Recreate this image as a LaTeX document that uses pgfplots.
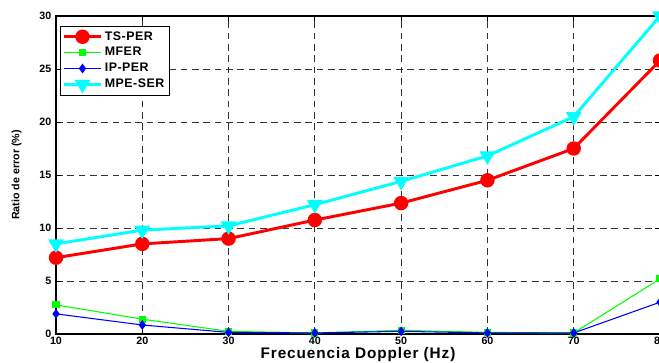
\documentclass[border=0pt]{standalone}
\usepackage{pgfplots}
\pgfplotsset{compat=1.18}
\usepackage{fontspec}
\setmainfont{Liberation Sans}
\definecolor{mcyan}{RGB}{0,255,255}
\definecolor{mgreen}{RGB}{0,255,0}
\definecolor{mblue}{RGB}{0,0,255}
\definecolor{mred}{RGB}{255,0,0}
\begin{document}
\begin{tikzpicture}
\begin{axis}[
  name=ax,
  scale only axis,
  width=453pt, height=238.5pt,
  xmin=10, xmax=80, ymin=0, ymax=30,
  xtick={10,20,...,80}, ytick={0,5,...,30},
  tick align=inside,
  major tick length=4pt,
  tick style={black, line width=0.6pt},
  axis line style={black, line width=1.2pt},
  grid=major,
  grid style={black!80, dash pattern=on 5pt off 3.5pt, line width=0.6pt},
  /pgf/number format/assume math mode=true,
  ticklabel style={font=\fontsize{8}{8}\selectfont\bfseries},
  xticklabel style={yshift=1pt},
  xlabel={Frecuencia Doppler (Hz)},
  xlabel style={font=\fontsize{11.5}{12}\selectfont\bfseries\addfontfeature{LetterSpace=6}, at={(axis description cs:0.5,-0.063)}, anchor=center},
  ylabel={Ratio de error (\%)},
  ylabel style={font=\fontsize{8}{9}\selectfont\bfseries, at={(axis description cs:-0.065,0.5)}, anchor=center},
  legend style={at={(axis description cs:0.006,0.97)}, anchor=north west, draw=black, line width=0.8pt,
    font=\fontsize{9.3}{10}\selectfont\bfseries\addfontfeature{LetterSpace=4}, inner sep=2pt, row sep=0pt, fill=white},
  legend cell align=left,
  legend image code/.code={
    \draw[mark repeat=2,mark phase=2] plot coordinates {(0cm,0cm) (0.48cm,0cm) (0.96cm,0cm)};
  },
]
\addplot[mred, line width=2.2pt, mark=*, mark size=4.3pt] coordinates {
(10,7.2) (20,8.5) (30,9.0) (40,10.75) (50,12.35) (60,14.5) (70,17.5) (80,25.8)};
\addlegendentry{TS-PER}
\addplot[mgreen, line width=0.8pt, mark=square*, mark size=2.3pt] coordinates {
(10,2.75) (20,1.4) (30,0.25) (40,0.1) (50,0.35) (60,0.15) (70,0.1) (80,5.2)};
\addlegendentry{MFER}
\addplot[mblue, line width=0.8pt, mark=diamond*, mark size=3pt] coordinates {
(10,1.9) (20,0.85) (30,0.15) (40,0.1) (50,0.25) (60,0.1) (70,0.1) (80,3.0)};
\addlegendentry{IP-PER}
\addplot[mcyan, line width=2.2pt, mark=triangle*, mark options={rotate=180}, mark size=4.6pt] coordinates {
(10,8.5) (20,9.8) (30,10.2) (40,12.2) (50,14.4) (60,16.8) (70,20.5) (80,30.0)};
\addlegendentry{MPE-SER}
\end{axis}
\pgfresetboundingbox
\path[use as bounding box] ([xshift=-42pt,yshift=-21.75pt]ax.south west) rectangle ([xshift=452.25pt,yshift=250.5pt]ax.south west);
\end{tikzpicture}
\end{document}
